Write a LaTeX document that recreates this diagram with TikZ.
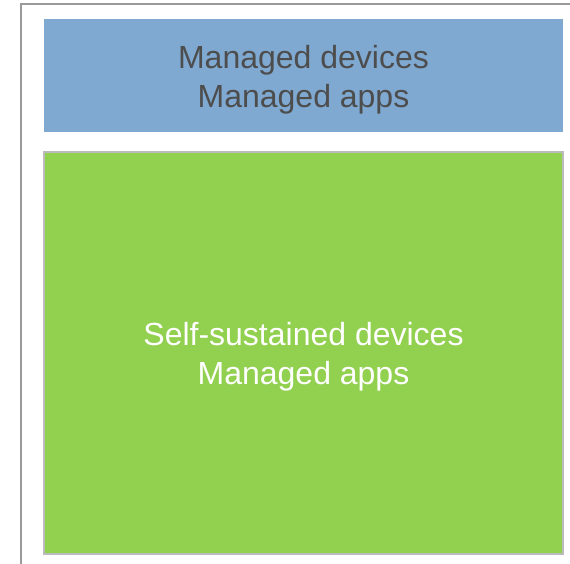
\documentclass[tikz,border=0pt]{standalone}
\usepackage{fontspec}
\setmainfont{Liberation Sans}
\definecolor{boxblue}{HTML}{7FA9D1}
\definecolor{boxgreen}{HTML}{92D050}
\definecolor{txtgray}{HTML}{4D4D4D}
\definecolor{framegray}{HTML}{9A9A9A}
\definecolor{edgegray}{HTML}{BBBBBB}
\begin{document}
\begin{tikzpicture}[x=1pt,y=-1pt,
  lbl/.style={align=center,font=\fontsize{32}{39}\selectfont,inner sep=0pt}]
\useasboundingbox (0,0) rectangle (570,564);
\coordinate (fa) at (21,564);
\coordinate (fb) at (21,4);
\coordinate (fc) at (570,4);
\draw[framegray,line width=1.2pt] (fa) -- (fb) -- (fc);
\node[draw=none,fill=boxblue,minimum width=519pt,minimum height=113pt,inner sep=0pt] (top) at (303.5,75.5) {};
\node[lbl,text=txtgray] (toptxt) at ([yshift=-4pt]top.center) {Managed devices\\Managed apps};
\node[draw=edgegray,line width=1.5pt,fill=boxgreen,minimum width=519pt,minimum height=402pt,inner sep=0pt] (bot) at (303.5,353) {};
\node[lbl,text=white] (bottxt) at ([yshift=-4pt]bot.center) {Self-sustained devices\\Managed apps};
\end{tikzpicture}
\end{document}
